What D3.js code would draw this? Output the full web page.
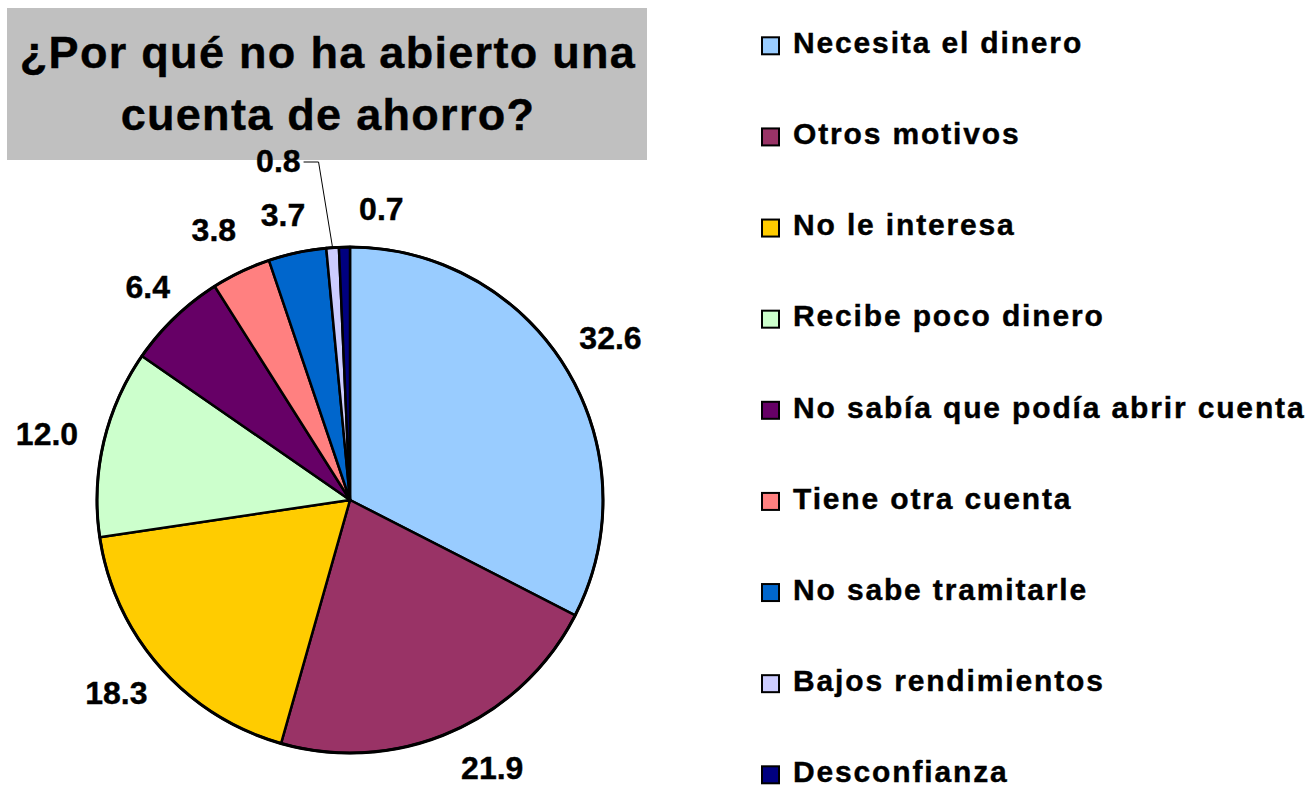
<!DOCTYPE html>
<html>
<head>
<meta charset="utf-8">
<script src="https://cdn.jsdelivr.net/npm/d3@7"></script>
<style>
  html, body { margin: 0; padding: 0; background: #ffffff; }
  svg { display: block; }
  text { font-family: "Liberation Sans", Arial, Helvetica, sans-serif; font-weight: bold; fill: #000; stroke: #000; stroke-width: 0.4px; }
</style>
</head>
<body>
<svg id="chart" width="1312" height="787"></svg>
<script>
// ---- data ----
const categories = [
  "Necesita el dinero",
  "Otros motivos",
  "No le interesa",
  "Recibe poco dinero",
  "No sabía que podía abrir cuenta",
  "Tiene otra cuenta",
  "No sabe tramitarle",
  "Bajos rendimientos",
  "Desconfianza"
];
const values = [32.6, 21.9, 18.3, 12.0, 6.4, 3.8, 3.7, 0.8, 0.7];
const valueLabels = ["32.6", "21.9", "18.3", "12.0", "6.4", "3.8", "3.7", "0.8", "0.7"];
const colors = ["#99CCFF", "#993366", "#FFCC00", "#CCFFCC", "#660066", "#FF8080", "#0066CC", "#CCCCFF", "#000080"];
const titleLines = ["¿Por qué no ha abierto una", "cuenta de ahorro?"];

// ---- layout (not data) ----
const W = 1312, H = 787;
const cx = 350, cy = 500, R = 253;
const labelGap = 27, labelFont = 32, labelH = 23;
const labelShift = {
  "Necesita el dinero": [-5, -10],
  "Otros motivos": [18, 0],
  "No sabía que podía abrir cuenta": [7, -3],
  "Tiene otra cuenta": [-6, -7],
  "No sabe tramitarle": [-4, 0],
  "Desconfianza": [38, 0]
};
const leaderLabel = "Bajos rendimientos";

const svg = d3.select("#chart");

// title box
svg.append("rect").attr("x", 7).attr("y", 8).attr("width", 640).attr("height", 152).attr("fill", "#C0C0C0");
svg.selectAll("text.title").data(titleLines).join("text")
  .attr("class", "title")
  .attr("x", 327 + 1)
  .attr("y", (d, i) => 68 + i * 62)
  .attr("text-anchor", "middle")
  .style("font-size", "45px")
  .style("letter-spacing", "1.3px")
  .text(d => d);

// pie
const data = categories.map((c, i) => ({ name: c, value: values[i], label: valueLabels[i], color: colors[i] }));
const pie = d3.pie().value(d => d.value).sort(null).startAngle(0).endAngle(2 * Math.PI);
const arcs = pie(data);
const arc = d3.arc().innerRadius(0).outerRadius(R);

const g = svg.append("g").attr("transform", `translate(${cx},${cy})`);
g.selectAll("path.slice").data(arcs).join("path")
  .attr("class", "slice")
  .attr("d", arc)
  .attr("fill", d => d.data.color)
  .attr("stroke", "#000")
  .attr("stroke-width", 2.5)
  .attr("stroke-linejoin", "round");
g.append("circle").attr("r", R).attr("fill", "none").attr("stroke", "#000").attr("stroke-width", 3);

// measure label widths
function textWidth(str) {
  const t = svg.append("text").style("font-size", labelFont + "px").text(str);
  const w = t.node().getComputedTextLength();
  t.remove();
  return w;
}

arcs.forEach(d => {
  const a = (d.startAngle + d.endAngle) / 2;
  const s = Math.sin(a), c = Math.cos(a);
  const w = textWidth(d.data.label);
  if (d.data.name === leaderLabel) {
    const ex = R * s, ey = -R * c;
    const elbowX = ex - 14, elbowY = -R - 85;
    g.append("polyline")
      .attr("points", [[ex, ey], [elbowX, elbowY], [elbowX - 15, elbowY]].map(p => p.join(",")).join(" "))
      .attr("fill", "none").attr("stroke", "#000").attr("stroke-width", 1);
    g.append("text")
      .attr("x", elbowX - 15 - 3)
      .attr("y", elbowY + labelH / 2 - 2)
      .attr("text-anchor", "end")
      .style("font-size", labelFont + "px")
      .text(d.data.label);
    return;
  }
  const rr = R + labelGap;
  const sh = labelShift[d.data.name] || [0, 0];
  const px = rr * s + s * w / 2 + sh[0];
  const py = -rr * c - c * labelH / 2 + sh[1];
  g.append("text")
    .attr("x", px)
    .attr("y", py + labelH / 2)
    .attr("text-anchor", "middle")
    .style("font-size", labelFont + "px")
    .text(d.data.label);
});

// legend
const ly = d3.scalePoint().domain(categories).range([53, 782]);
const leg = svg.append("g");
const rows = leg.selectAll("g.row").data(data).join("g").attr("class", "row")
  .attr("transform", d => `translate(0,${ly(d.name)})`);
rows.append("rect")
  .attr("x", 762).attr("y", -15.7).attr("width", 17).attr("height", 17)
  .attr("fill", d => d.color).attr("stroke", "#000").attr("stroke-width", 2);
rows.append("text")
  .attr("x", 793).attr("y", 0)
  .style("font-size", "30px")
  .style("letter-spacing", "1.85px")
  .text(d => d.name);
</script>
</body>
</html>
